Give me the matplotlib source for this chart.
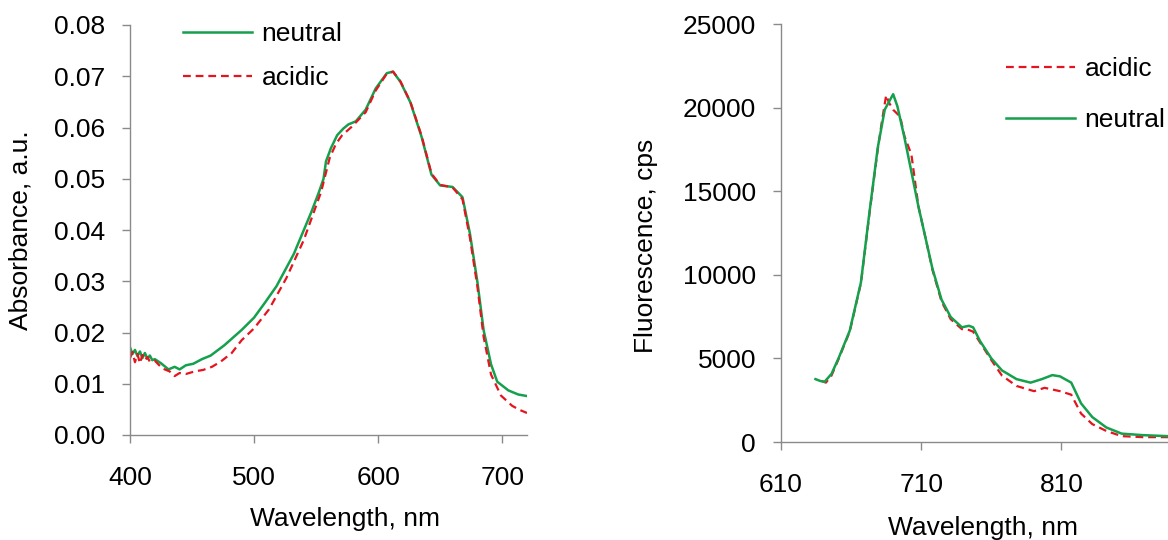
"""Absorbance and fluorescence spectra, neutral vs. acidic.

Two panels side by side:
    - left: absorbance (a.u.) vs wavelength
    - right: fluorescence (cps) vs wavelength

Output:
    out.png
"""

import matplotlib
matplotlib.use("Agg")
import matplotlib.pyplot as plt


OUT_FIG = "out.png"

GREEN = "#14a04c"
RED = "#e5141e"
SPINE = "#8a8a8a"

# ---- absorbance (left panel) ----
ABS_NEUTRAL_WL = [400, 402, 404, 406, 408, 410, 412, 414, 416, 418, 420, 425, 431, 436,
                  440, 445, 451, 458, 465, 476, 490, 500, 509, 518, 532, 546, 552, 556,
                  558, 562, 567, 572, 576, 582, 590, 598, 607, 612, 618, 626, 635, 643,
                  650, 660, 668, 674, 680, 685, 691, 696, 705, 713, 720]
ABS_NEUTRAL = [0.0171, 0.0158, 0.0166, 0.0154, 0.0163, 0.0150, 0.0160, 0.0149, 0.0155, 0.0146,
               0.0148, 0.0140, 0.0128, 0.0133, 0.0128, 0.0136, 0.0139, 0.0148, 0.0155, 0.0175,
               0.0205, 0.0229, 0.0259, 0.0290, 0.0353, 0.0434, 0.0472, 0.0500, 0.0534, 0.0560,
               0.0585, 0.0598, 0.0606, 0.0612, 0.0635, 0.0676, 0.0706, 0.0709, 0.0689, 0.0649,
               0.0582, 0.0508, 0.0487, 0.0484, 0.0464, 0.0393, 0.0299, 0.0205, 0.0138, 0.0104,
               0.0087, 0.0079, 0.0076]

ABS_ACIDIC_WL = [400, 402, 404, 406, 408, 410, 412, 414, 416, 420, 426, 432, 436, 440,
                 445, 452, 459, 466, 473, 482, 490, 500, 512, 526, 540, 554, 561, 566,
                 571, 579, 590, 598, 607, 612, 618, 626, 635, 643, 650, 660, 668, 674,
                 680, 685, 691, 699, 708, 714, 720]
ABS_ACIDIC = [0.0150, 0.0162, 0.0142, 0.0158, 0.0140, 0.0156, 0.0146, 0.0152, 0.0143, 0.0145,
              0.0130, 0.0124, 0.0115, 0.0121, 0.0119, 0.0124, 0.0127, 0.0133, 0.0143, 0.0160,
              0.0185, 0.0208, 0.0245, 0.0306, 0.0380, 0.0474, 0.0541, 0.0568, 0.0585, 0.0602,
              0.0630, 0.0672, 0.0705, 0.0709, 0.0690, 0.0650, 0.0584, 0.0510, 0.0488, 0.0483,
              0.0460, 0.0385, 0.0290, 0.0192, 0.0118, 0.0077, 0.0057, 0.0049, 0.0043]

# ---- fluorescence (right panel) ----
FL_NEUTRAL_WL = [634.6, 638, 641, 646, 651, 659, 667, 673, 679, 684, 688, 690, 693, 698,
                 703, 708, 713, 718, 724.5, 731, 739, 744, 747, 752, 760, 767.6, 778, 788,
                 796, 803.5, 809, 817, 824, 832, 842, 853, 868, 886]
FL_NEUTRAL = [3760, 3650, 3595, 4070, 5000, 6650, 9545, 13680, 17600, 19880, 20500, 20800,
              20080, 18220, 16160, 14090, 12230, 10370, 8510, 7480, 6860, 6950, 6860, 6030,
              5000, 4280, 3760, 3550, 3760, 4000, 3925, 3550, 2310, 1490, 870, 500, 410, 350]

FL_ACIDIC_WL = [639, 642, 646, 651, 659, 667, 673, 679, 682, 685, 687, 690, 695, 698,
                703, 708, 713, 718, 724.5, 731, 739, 744, 747, 752, 760, 767.6, 778, 790.5,
                798, 809, 817, 824, 832, 842, 853, 868, 886]
FL_ACIDIC = [3660, 3550, 3970, 4950, 6600, 9500, 13600, 17500, 19200, 20740, 20300, 19870,
             19460, 18300, 17190, 14090, 12230, 10300, 8400, 7350, 6750, 6700, 6600, 5950,
             4900, 3970, 3350, 3040, 3240, 3040, 2830, 1700, 1070, 660, 350, 290, 290]


def style_axes(ax):
    for side in ("top", "right"):
        ax.spines[side].set_visible(False)
    for side in ("left", "bottom"):
        ax.spines[side].set_color(SPINE)
        ax.spines[side].set_linewidth(1.0)
    ax.tick_params(axis="both", direction="out", length=6, width=1.0,
                   color=SPINE, labelcolor="black", labelsize=19)
    ax.tick_params(axis="x", pad=16)
    ax.tick_params(axis="y", pad=12)


def main():
    plt.rcParams["font.family"] = ["Liberation Sans", "DejaVu Sans"]
    fig = plt.figure(figsize=(11.68, 5.40), dpi=100)

    # left panel: absorbance
    ax1 = fig.add_axes([130 / 1168, 105 / 540, 397 / 1168, 410 / 540])
    ax1.plot(ABS_NEUTRAL_WL, ABS_NEUTRAL, color=GREEN, linewidth=1.8, label="neutral")
    ax1.plot(ABS_ACIDIC_WL, ABS_ACIDIC, color=RED, linewidth=1.6,
             linestyle=(0, (3.5, 2.2)), label="acidic")
    ax1.set_xlim(400, 720)
    ax1.set_ylim(0, 0.08)
    ax1.set_xticks([400, 500, 600, 700])
    ax1.set_yticks([0.0, 0.01, 0.02, 0.03, 0.04, 0.05, 0.06, 0.07, 0.08])
    ax1.set_yticklabels([f"{v:.2f}" for v in ax1.get_yticks()])
    style_axes(ax1)
    ax1.set_xlabel("Wavelength, nm", fontsize=19, va="center")
    ax1.xaxis.set_label_coords(0.542, -0.204)
    ax1.set_ylabel("Absorbance, a.u.", fontsize=19, va="center")
    ax1.yaxis.set_label_coords(-0.275, 0.5)
    ax1.legend(loc="upper left", bbox_to_anchor=(183 / 1168, 1 - 22 / 540),
               bbox_transform=fig.transFigure, frameon=False, fontsize=19,
               handlelength=2.6, handletextpad=0.38, borderpad=0, borderaxespad=0,
               labelspacing=0.77)

    # right panel: fluorescence
    ax2 = fig.add_axes([781 / 1168, 98 / 540, 387 / 1168, 418 / 540])
    ax2.plot(FL_ACIDIC_WL, FL_ACIDIC, color=RED, linewidth=1.6,
             linestyle=(0, (3.5, 2.2)), label="acidic")
    ax2.plot(FL_NEUTRAL_WL, FL_NEUTRAL, color=GREEN, linewidth=1.8, label="neutral")
    ax2.set_xlim(610, 886)
    ax2.set_ylim(0, 25000)
    ax2.set_xticks([610, 710, 810])
    ax2.set_yticks([0, 5000, 10000, 15000, 20000, 25000])
    style_axes(ax2)
    ax2.set_xlabel("Wavelength, nm", fontsize=19, va="center")
    ax2.xaxis.set_label_coords(0.522, -0.205)
    ax2.set_ylabel("Fluorescence, cps", fontsize=19, va="center")
    ax2.yaxis.set_label_coords(-0.35, 0.47)
    ax2.legend(loc="upper left", bbox_to_anchor=(1006 / 1168, 1 - 57 / 540),
               bbox_transform=fig.transFigure, frameon=False, fontsize=19,
               handlelength=2.6, handletextpad=0.38, borderpad=0, borderaxespad=0,
               labelspacing=1.02)

    fig.savefig(OUT_FIG, dpi=100)
    plt.close(fig)
    print(f"Saved figure -> {OUT_FIG}")


if __name__ == "__main__":
    main()
